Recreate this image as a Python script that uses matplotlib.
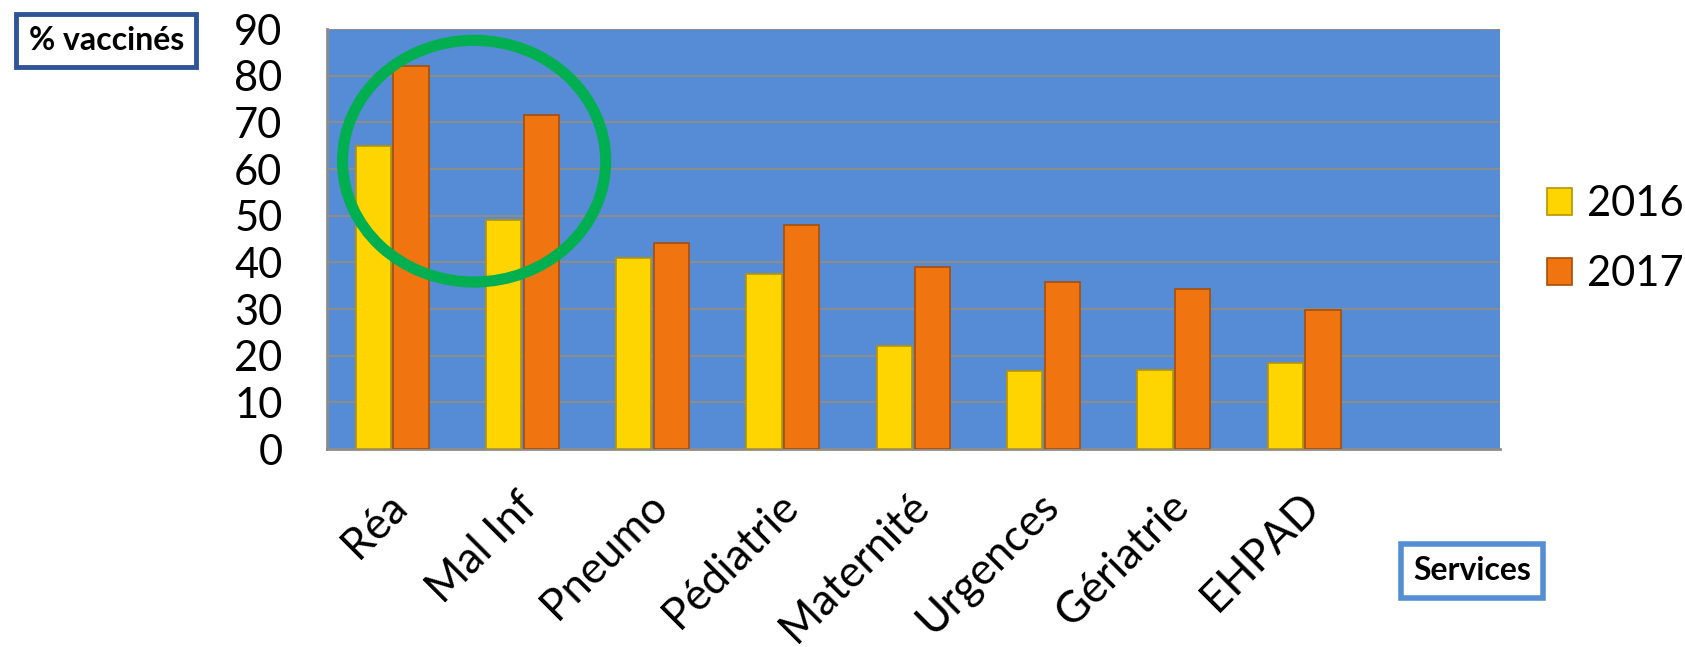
import matplotlib.pyplot as plt
from matplotlib.patches import Ellipse
from matplotlib.transforms import ScaledTranslation
import numpy as np

services = ["Réa", "Mal Inf", "Pneumo", "Pédiatrie", "Maternité", "Urgences", "Gériatrie", "EHPAD", ""]
v2016 = [65, 49, 41, 37.5, 22, 16.7, 17, 18.4]
v2017 = [82, 71.5, 44.2, 48, 39, 35.8, 34.3, 29.7]
yticks = [0, 10, 20, 30, 40, 50, 60, 70, 80, 90]

plt.rcParams['font.family'] = ['Lato', 'DejaVu Sans']

fig = plt.figure(figsize=(16.85, 6.47), dpi=100)
ax = fig.add_axes([0.194, 0.306, 0.696, 0.649])
ax.set_facecolor('#558CD5')

x = np.arange(len(v2016))
w = 0.27
ax.bar(x - 0.145, v2016, w, color='#FFD500', edgecolor='#B89400', linewidth=1.2, label='2016', zorder=3)
ax.bar(x + 0.145, v2017, w, color='#F07510', edgecolor='#A84E08', linewidth=1.2, label='2017', zorder=3)

ax.set_xlim(-0.5, len(services) - 0.5)
ax.set_ylim(0, 90)
ax.set_yticks(yticks)
ax.set_yticklabels([str(t) for t in yticks], fontsize=30)
ax.set_xticks(np.arange(len(services)))
ax.set_xticklabels(services, fontsize=31.5, rotation=45, ha='right', va='top', rotation_mode='anchor')
ax.tick_params(axis='both', length=0)
ax.tick_params(axis='x', pad=26)
ax.tick_params(axis='y', pad=32)
shift = ScaledTranslation(-6 / 100, 0, fig.dpi_scale_trans)
for lab in ax.get_xticklabels():
    lab.set_transform(lab.get_transform() + shift)
ax.yaxis.grid(True, color='#8C8C8C', linewidth=1.5, zorder=1)
ax.set_axisbelow(True)
for s in ['top', 'right']:
    ax.spines[s].set_visible(False)
ax.spines['left'].set_color('#8C8C8C')
ax.spines['bottom'].set_color('#8C8C8C')
ax.spines['left'].set_linewidth(2)
ax.spines['bottom'].set_linewidth(2)

# green circle highlight
ell = Ellipse((0.63, 61.7), 2.02, 51.8, fill=False, edgecolor='#00B050', linewidth=8, zorder=5, clip_on=False)
ax.add_patch(ell)

leg = ax.legend(loc='center left', bbox_to_anchor=(1.04, 0.5), frameon=False, fontsize=30,
                handlelength=0.62, handleheight=0.62, handletextpad=0.35, labelspacing=0.75,
                borderpad=0, borderaxespad=0)
for h in leg.legend_handles:
    h.set_linewidth(1.2)

# axis name boxes
fig.text(0.063, 0.937, '% vaccinés', fontsize=23, fontweight='bold', ha='center', va='center',
         bbox=dict(boxstyle='square,pad=0.38', facecolor='white', edgecolor='#2F5597', linewidth=3.5))
fig.text(0.8736, 0.1175, 'Services', fontsize=23, fontweight='bold', ha='center', va='center',
         bbox=dict(boxstyle='square,pad=0.38', facecolor='white', edgecolor='#558ED5', linewidth=4))

plt.savefig('out.png')
